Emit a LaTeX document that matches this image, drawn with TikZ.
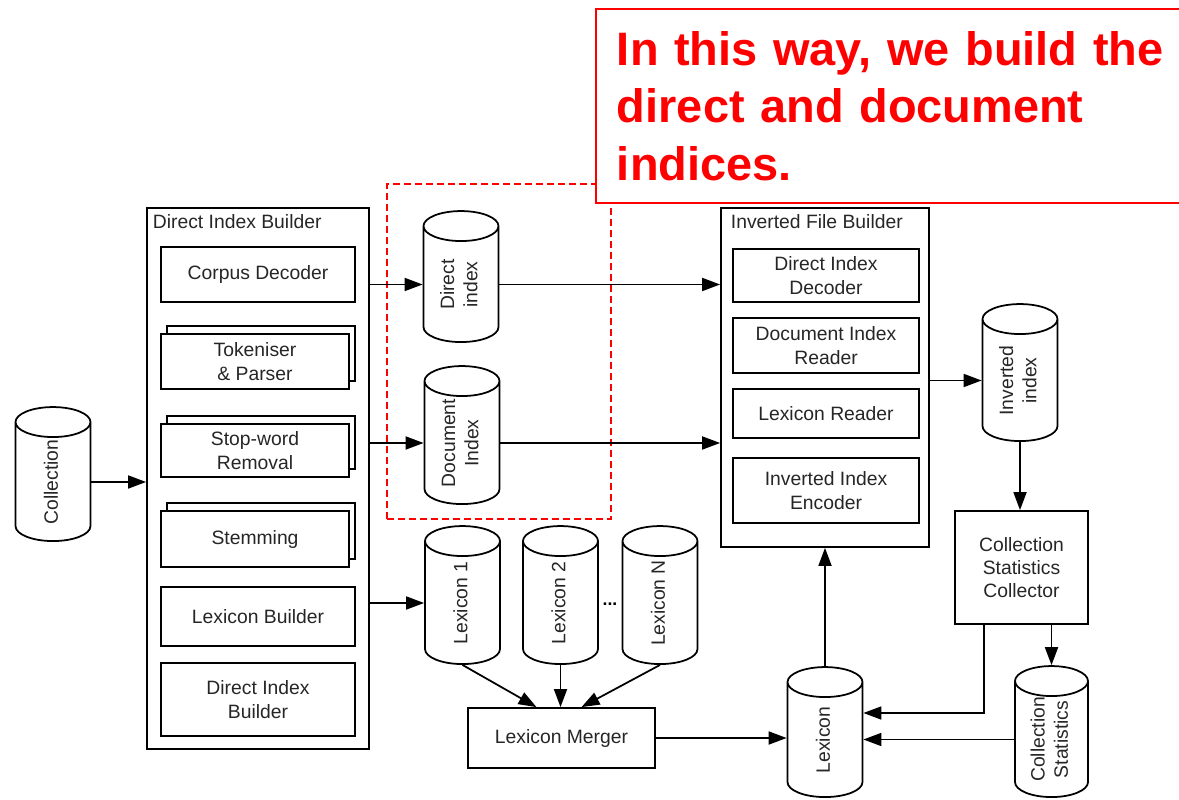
\documentclass[tikz,border=0pt]{standalone}
\usepackage{fontspec}
\setmainfont{Liberation Sans}
\usetikzlibrary{shapes.geometric,shadows,arrows.meta}

\newcommand{\cylLabel}[1]{\begin{tabular}{@{}c@{}}#1\end{tabular}}

\begin{document}
\begin{tikzpicture}[x=0.02cm,y=-0.02cm,line width=1pt,>={Triangle[length=0.36cm,width=0.26cm]}]

\def\px{0.02cm}

\tikzstyle{procBox}=[rectangle,draw,fill=white,align=center,inner sep=0pt,font=\fontsize{11}{13.2}\selectfont,text=black!85]
\tikzstyle{stackBox}=[procBox,copy shadow={shadow xshift=0.12cm,shadow yshift=0.16cm,draw=black,fill=white}]
\tikzstyle{groupBox}=[rectangle,draw,inner sep=0pt]
\tikzstyle{titleText}=[anchor=west,inner sep=0pt,font=\fontsize{11}{13.2}\selectfont,text=black!85]
\tikzstyle{dataStore}=[cylinder,draw,fill=white,rotate=90,aspect=0.5,minimum width=75*\px,inner sep=0pt,text height=0.7cm,text depth=0.5cm,font=\fontsize{11}{13.2}\selectfont,text=black!85]
\tikzstyle{hilite}=[rectangle,draw=red,line width=0.85pt,dash pattern=on 0.14cm off 0.08cm,inner sep=0pt]
\tikzstyle{note}=[rectangle,draw=red,line width=1.1pt,fill=white,text=red,align=left,inner xsep=21*\px,inner ysep=0pt,text width=600*\px,minimum height=194*\px,font=\fontsize{26.7}{32.8}\selectfont\bfseries]

\clip (0,0) rectangle (1179,800);

%Direct index builder
\node[groupBox,minimum width=222*\px,minimum height=541*\px] (dib) at (258,478.5) {};
\node[titleText] (dibTitle) at (152,222) {Direct Index Builder};
\node[procBox,minimum width=194*\px,minimum height=55*\px] (corpus) at (258,274.5) {Corpus Decoder};
\node[stackBox,minimum width=188*\px,minimum height=55*\px] (token) at (255,361.5) {Tokeniser\\\& Parser};
\node[stackBox,minimum width=188*\px,minimum height=53*\px] (stop) at (255,450.5) {Stop-word\\Removal};
\node[stackBox,minimum width=188*\px,minimum height=56*\px] (stem) at (255,539) {Stemming};
\node[procBox,minimum width=194*\px,minimum height=59*\px] (lexBuild) at (258,616.5) {Lexicon Builder};
\node[procBox,minimum width=194*\px,minimum height=73*\px] (dibInner) at (258,699.5) {Direct Index\\Builder};

\node[dataStore,minimum height=134*\px] (coll) at (53,482) {\cylLabel{Collection}};

%what we build here
\node[hilite,minimum width=224*\px,minimum height=335*\px] (hl) at (499,351.5) {};

\node[dataStore,minimum height=131*\px] (dirIdx) at (461,284.5) {\cylLabel{Direct\\index}};
\node[dataStore,minimum height=138*\px] (docIdx) at (462,443) {\cylLabel{Document\\Index}};
\node[dataStore,minimum height=138*\px] (lex1) at (462.5,603) {\cylLabel{Lexicon 1}};
\node[dataStore,minimum height=138*\px] (lex2) at (560.5,603) {\cylLabel{Lexicon 2}};
\node[dataStore,minimum height=138*\px] (lexN) at (660,603) {\cylLabel{Lexicon N}};
\node[font=\bfseries] (dots) at (610,604) {...};
\node[procBox,minimum width=187*\px,minimum height=60*\px] (merger) at (561.5,738) {Lexicon Merger};

%Inverted file builder
\node[groupBox,minimum width=208*\px,minimum height=339*\px] (ifb) at (825,377.5) {};
\node[titleText] (ifbTitle) at (730,222) {Inverted File Builder};
\node[procBox,minimum width=186*\px,minimum height=53*\px] (dirDec) at (826,275.5) {Direct Index\\Decoder};
\node[procBox,minimum width=186*\px,minimum height=55*\px] (docRead) at (826,345.5) {Document Index\\Reader};
\node[procBox,minimum width=186*\px,minimum height=49*\px] (lexRead) at (826,413.5) {Lexicon Reader};
\node[procBox,minimum width=186*\px,minimum height=65*\px] (invEnc) at (826,490.5) {Inverted Index\\Encoder};

\node[dataStore,minimum height=137*\px] (invIdx) at (1020,380.5) {\cylLabel{Inverted\\index}};
\node[procBox,minimum width=133*\px,minimum height=113*\px] (csc) at (1021.5,567.5) {Collection\\Statistics\\Collector};
\node[dataStore,minimum height=130*\px] (lexicon) at (825,740) {\cylLabel{Lexicon}};
\node[dataStore,minimum width=73*\px,minimum height=131*\px] (colStat) at (1051.5,739.5) {\cylLabel{Collection\\Statistics}};

\draw[->] (coll.south) -- (coll.south -| dib.west);
\draw[->] (dirIdx.north -| dib.east) -- (dirIdx.north);
\draw[->] (docIdx.north -| dib.east) -- (docIdx.north);
\draw[->] (lex1.north -| dib.east) -- (lex1.north);

\draw[->] (dirIdx.south) -- (dirIdx.south -| ifb.west);
\draw[->] (docIdx.south) -- (docIdx.south -| ifb.west);

\draw[->] (lex1.west) -- ([xshift=-0.5cm]merger.north);
\draw[->] (lex2.west) -- (lex2.west |- merger.north);
\draw[->] (lexN.west) -- ([xshift=0.4cm]merger.north);
\draw[->] (merger.east) -- (merger.east -| lexicon.north);
\draw[->] (lexicon.east) -- (lexicon.east |- ifb.south);

\draw[->] (invIdx.north -| ifb.east) -- (invIdx.north);
\draw[->] (invIdx.west) -- (invIdx.west |- csc.north);
\draw[->] ([xshift=-0.75cm]csc.south) |- ([yshift=0.54cm]lexicon.south);
\draw[->] (colStat.east |- csc.south) -- (colStat.east);
\draw[->] (colStat.north) -- (colStat.north -| lexicon.south);

\node[note,anchor=north west] (remark) at (595,8) {In this way, we build the\\direct and document\\indices.};

\end{tikzpicture}
\end{document}
